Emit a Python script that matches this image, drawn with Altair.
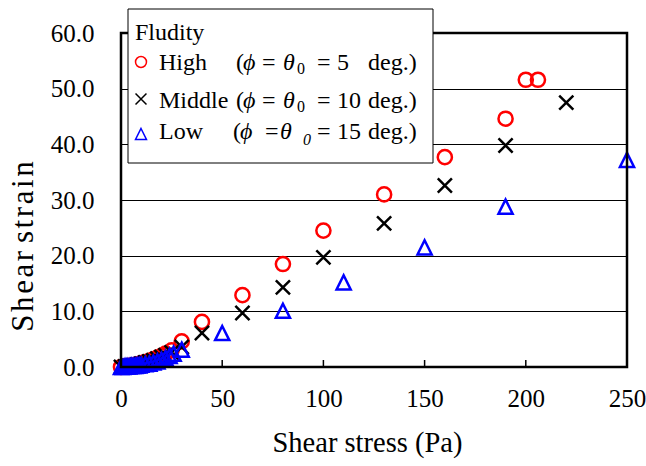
import altair as alt
import pandas as pd

# ---- data ----
high_x = [0, 2, 4, 6, 8, 10, 12, 14, 16, 18, 20, 22, 25, 30, 40, 60, 80, 100, 130, 160, 190, 200, 206]
high_y = [0, 0.1, 0.2, 0.3, 0.5, 0.7, 0.9, 1.1, 1.4, 1.7, 2.0, 2.4, 3.0, 4.6, 8.1, 12.9, 18.5, 24.5, 31.0, 37.7, 44.6, 51.6, 51.6]

mid_x = [0, 2, 4, 6, 8, 10, 12, 14, 16, 18, 20, 22, 25, 30, 40, 60, 80, 100, 130, 160, 190, 220]
mid_y = [0, 0.1, 0.2, 0.3, 0.4, 0.6, 0.8, 1.0, 1.2, 1.5, 1.8, 2.1, 2.6, 3.6, 6.1, 9.7, 14.3, 19.7, 25.8, 32.6, 39.8, 47.5]

low_x = [0, 1, 2, 3, 4, 5, 6, 7, 8, 9, 10, 12, 14, 16, 18, 20, 22, 24, 26, 30, 50, 80, 110, 150, 190, 250]
low_y = [0, 0, 0.1, 0.1, 0.1, 0.2, 0.2, 0.2, 0.3, 0.3, 0.4, 0.5, 0.6, 0.8, 1.0, 1.3, 1.6, 2.0, 2.4, 3.1, 6.1, 10.1, 15.2, 21.5, 28.8, 37.2]

series_names = ["High", "Middle", "Low"]
x_ticks = [0, 50, 100, 150, 200, 250]
y_ticks = [0, 10, 20, 30, 40, 50, 60]
inner_ticks = [50, 100, 150, 200]

FONT = "Liberation Serif"
W, H = 506, 334

df = pd.concat([
    pd.DataFrame({"stress": high_x, "strain": high_y, "series": "High", "ord": 0}),
    pd.DataFrame({"stress": mid_x, "strain": mid_y, "series": "Middle", "ord": 1}),
    pd.DataFrame({"stress": low_x, "strain": low_y, "series": "Low", "ord": 2}),
], ignore_index=True)

xscale = alt.Scale(domain=[0, 250], nice=False)
yscale = alt.Scale(domain=[0, 60], nice=False)

XSHAPE = "M-1,-1L1,1M-1,1L1,-1"
TRI = "M0,-1L1,1L-1,1Z"
COLORS = ["#ff0000", "#000000", "#0000ff"]

Y_TITLE = " ".join("\u200a".join(w) for w in "Shear strain".split(" "))

points = alt.Chart(df).mark_point(filled=False, strokeWidth=2.5, size=200, opacity=1).encode(
    x=alt.X("stress:Q", scale=xscale,
            axis=alt.Axis(values=x_ticks, format="d", grid=False, domain=False, ticks=False,
                          tickSize=0, labelPadding=19, labelFontSize=25, labelFont=FONT,
                          labelColor="black", labelFlush=False,
                          title="Shear stress (Pa)", titleFontSize=28.5, titleFontWeight="normal",
                          titleFont=FONT, titleColor="black",
                          titleX=246, titleY=84, titleBaseline="alphabetic", titleAnchor="start",
                          titleAlign="center")),
    y=alt.Y("strain:Q", scale=yscale,
            axis=alt.Axis(values=y_ticks, format=".1f", grid=True, gridColor="black", gridWidth=1,
                          domain=False, ticks=False, tickSize=0, labelPadding=27, labelFontSize=25,
                          labelFont=FONT, labelColor="black", labelFlush=False,
                          title=Y_TITLE, titleFontSize=31, titleFontWeight="normal",
                          titleFont=FONT, titleColor="black",
                          titleX=-89, titleY=213, titleBaseline="alphabetic", titleAlign="center")),
    color=alt.Color("series:N", scale=alt.Scale(domain=series_names, range=COLORS), legend=None),
    shape=alt.Shape("series:N", scale=alt.Scale(domain=series_names, range=["circle", XSHAPE, TRI]), legend=None),
    order=alt.Order("ord:Q"),
)

ticks_df = pd.DataFrame({"t": inner_ticks})
inner = alt.Chart(ticks_df).mark_rule(color="black", strokeWidth=1.5).encode(
    x=alt.X("t:Q", scale=xscale), y=alt.value(H - 7), y2=alt.value(H)
)

one = pd.DataFrame({"a": [0]})
border = alt.Chart(one).mark_rect(fill=None, stroke="black", strokeWidth=2.5).encode(
    x=alt.value(0), x2=alt.value(W), y=alt.value(0), y2=alt.value(H)
)

legend_box = alt.Chart(one).mark_rect(fill="white", stroke="black", strokeWidth=1).encode(
    x=alt.value(7), x2=alt.value(312), y=alt.value(-24), y2=alt.value(130)
)

# legend symbols
sym_df = pd.DataFrame({"series": series_names, "px": [20, 20, 20], "py": [29, 66, 101]})
legend_sym = alt.Chart(sym_df).mark_point(filled=False, strokeWidth=1.5, size=120, opacity=1).encode(
    x=alt.X("px:Q", scale=None), y=alt.Y("py:Q", scale=None),
    color=alt.Color("series:N", scale=alt.Scale(domain=series_names, range=COLORS), legend=None),
    shape=alt.Shape("series:N", scale=alt.Scale(domain=series_names, range=["circle", XSHAPE, TRI]), legend=None),
)

PHI = "\u03d5"
up_rows = [
    ("Fludity", 14, 7, 24),
    ("High", 38, 37, 24), ("(", 115, 37, 24), ("=", 141, 37, 24), ("0", 176, 41, 16), ("=", 196, 37, 24), ("5", 216, 37, 24), ("deg.)", 247, 37, 24),
    ("Middle", 38, 75, 24), ("(", 115, 75, 24), ("=", 141, 75, 24), ("0", 176, 79, 16), ("=", 196, 75, 24), ("10", 216, 75, 24), ("deg.)", 247, 75, 24),
    ("Low", 38, 106, 24), ("(", 112, 106, 24), ("=", 144, 106, 24), ("=", 196, 106, 24), ("15", 216, 106, 24), ("deg.)", 247, 106, 24),
]
it_rows = [
    (PHI, 122, 37, 24), ("θ", 162, 37, 24),
    (PHI, 122, 75, 24), ("θ", 162, 75, 24),
    (PHI, 119, 106, 24), ("θ", 159, 106, 24), ("0", 182, 112, 16),
]
up_df = pd.DataFrame(up_rows, columns=["txt", "px", "py", "fs"])
it_df = pd.DataFrame(it_rows, columns=["txt", "px", "py", "fs"])

def txt_layer(d, style):
    return alt.Chart(d).mark_text(align="left", baseline="alphabetic", font=FONT, fontStyle=style, color="black").encode(
        x=alt.X("px:Q", scale=None), y=alt.Y("py:Q", scale=None),
        text="txt:N", size=alt.Size("fs:Q", scale=None, legend=None),
    )

chart = alt.layer(
    points, inner, border, legend_box, legend_sym, txt_layer(up_df, "normal"), txt_layer(it_df, "italic")
).resolve_scale(color="independent", shape="independent").properties(
    width=W, height=H,
    autosize=alt.AutoSizeParams(type="none"),
    padding={"left": 121, "top": 33, "right": 19, "bottom": 99},
).configure_view(stroke=None).configure_axis(
    labelFont=FONT, titleFont=FONT, labelColor="black", titleColor="black"
).configure(background="white")

chart.save("out.html", embed_options={"renderer": "svg", "actions": False})
